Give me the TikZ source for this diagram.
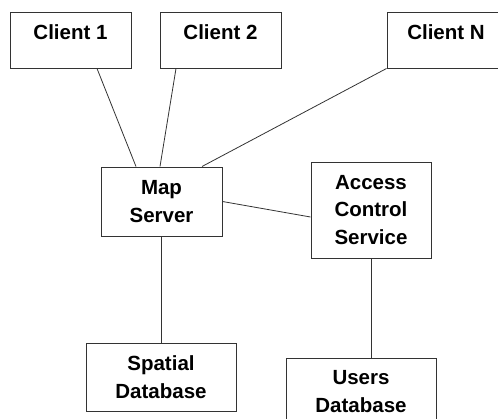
\documentclass[tikz,border=0pt]{standalone}
\usepackage{fontspec}
\setmainfont{Liberation Sans}
\usepackage{tikz}
\definecolor{edge}{HTML}{333333}

\begin{document}
\begin{tikzpicture}[x=1pt,y=-1pt,
  box/.style={draw=edge,line width=1pt,align=center,inner sep=0pt,
    font=\bfseries\fontsize{20.5}{27.5}\selectfont},
  clientbox/.style={box,minimum height=56pt,text height=15pt,text depth=17pt,inner ysep=12pt},
  link/.style={draw=edge,line width=0.8pt}]
\useasboundingbox (0,0) rectangle (498,418);
\clip (0,0) rectangle (498,418);
% clients along the top
\node[clientbox,minimum width=121pt] (client1) at (70.5,40) {Client 1};
\node[clientbox,minimum width=121pt] (client2) at (220.5,40) {Client 2};
\node[clientbox,minimum width=118pt] (clientn) at (446,40) {Client N};
% servers
\node[box,minimum width=121pt,minimum height=69pt] (map) at (161.5,201.5) {Map\\Server};
\node[box,minimum width=120pt,minimum height=96pt] (acs) at (371,210) {Access\\Control\\Service};
% databases
\node[box,minimum width=150pt,minimum height=68pt] (spatial) at (161,377) {Spatial\\Database};
\node[box,minimum width=150pt,minimum height=67pt] (users) at (361,391.5) {Users\\Database};
\draw[link] ([xshift=26.5pt]client1.south) -- ([xshift=-25.5pt]map.north);
\draw[link] ([xshift=-44.5pt]client2.south) -- ([xshift=-1.5pt]map.north);
\draw[link] (clientn.south west) -- ([xshift=40.5pt]map.north);
\draw[link] (map.east) -- ([yshift=-7pt]acs.west);
\draw[link] (map.south) -- (map.south |- spatial.north);
\draw[link] (acs.south) -- (acs.south |- users.north);
\end{tikzpicture}
\end{document}
